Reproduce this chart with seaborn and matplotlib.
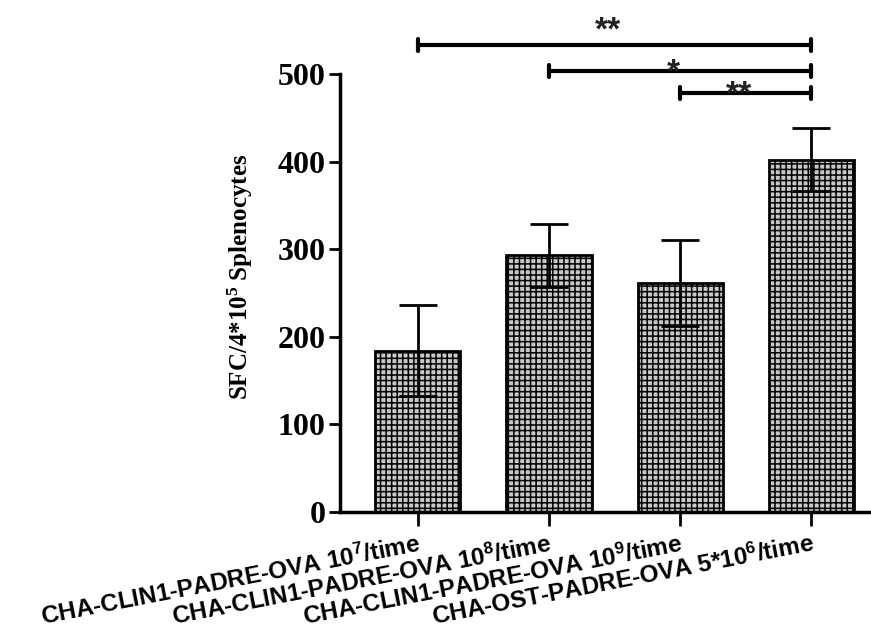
import numpy as np
import pandas as pd
import matplotlib
matplotlib.use("Agg")
import matplotlib.pyplot as plt
import seaborn as sns

groups = [
    r"CHA-CLIN1-PADRE-OVA 10$^{7}$/time",
    r"CHA-CLIN1-PADRE-OVA 10$^{8}$/time",
    r"CHA-CLIN1-PADRE-OVA 10$^{9}$/time",
    r"CHA-OST-PADRE-OVA 5*10$^{6}$/time",
]
means = [184, 293, 261, 402]
sds = [52, 36, 49, 36]

# significance brackets: (from group, to group, height, label)
sig_from = [0, 1, 2]
sig_to = [3, 3, 3]
sig_y = [533, 503, 478]
sig_text = ["**", "*", "**"]
star_gap = [16, -2, -2]   # offset of the stars from each bracket

sns.set_style("ticks")
plt.rcParams["mathtext.default"] = "regular"
plt.rcParams["hatch.linewidth"] = 1.1
for k in ("text.color", "axes.labelcolor", "xtick.color", "ytick.color",
          "axes.edgecolor"):
    plt.rcParams[k] = "black"

fig = plt.figure(figsize=(8.71, 6.32), dpi=100)
ax = fig.add_axes([0.390, 0.190, 0.608, 0.693])

df = pd.DataFrame({"group": groups, "value": means})
sns.barplot(data=df, x="group", y="value", errorbar=None, width=0.65,
            color="#c8c8c8", edgecolor="black", linewidth=2, ax=ax)
for p in ax.patches:
    p.set_facecolor("#c8c8c8")
    p.set_hatch("+++")

x = np.arange(len(groups))
ax.errorbar(x, means, yerr=sds, fmt="none", ecolor="black", elinewidth=2,
            capsize=14, capthick=2)

for i, j, h, t, g in zip(sig_from, sig_to, sig_y, sig_text, star_gap):
    ax.plot([i, j], [h, h], color="black", lw=3, clip_on=False,
            solid_capstyle="butt")
    for k in (i, j):
        ax.plot([k, k], [h - 7, h + 7], color="black", lw=3, clip_on=False)
    ax.text((i + j) / 2 - 0.05, h + g, t, ha="center", va="center",
            fontsize=24, fontweight="bold", family="Liberation Sans",
            color="#222222")

ax.set_ylim(0, 500)
ax.set_xlim(-0.594, 3.44)
ax.set_yticks([0, 100, 200, 300, 400, 500])
ax.set_yticklabels(["0", "100", "200", "300", "400", "500"],
                   family="Liberation Serif", fontweight="bold", fontsize=23)
ax.set_xticks(x)
ax.set_xticklabels(groups, rotation=11, ha="right", rotation_mode="anchor",
                   family="Liberation Sans", fontweight="bold", fontsize=17.5)
ax.tick_params(axis="y", length=8, width=2, pad=2)
ax.tick_params(axis="x", length=10, width=2, pad=4)
ax.set_xlabel("")
ax.set_ylabel(r"SFC/4*10$^{5}$ Splenocytes", family="Liberation Serif",
              fontweight="bold", fontsize=18)
ax.yaxis.set_label_coords(-0.16, 0.537)

for s in ("left", "bottom"):
    ax.spines[s].set_linewidth(2.5)
sns.despine(ax=ax)

fig.savefig("out.png", dpi=100)
